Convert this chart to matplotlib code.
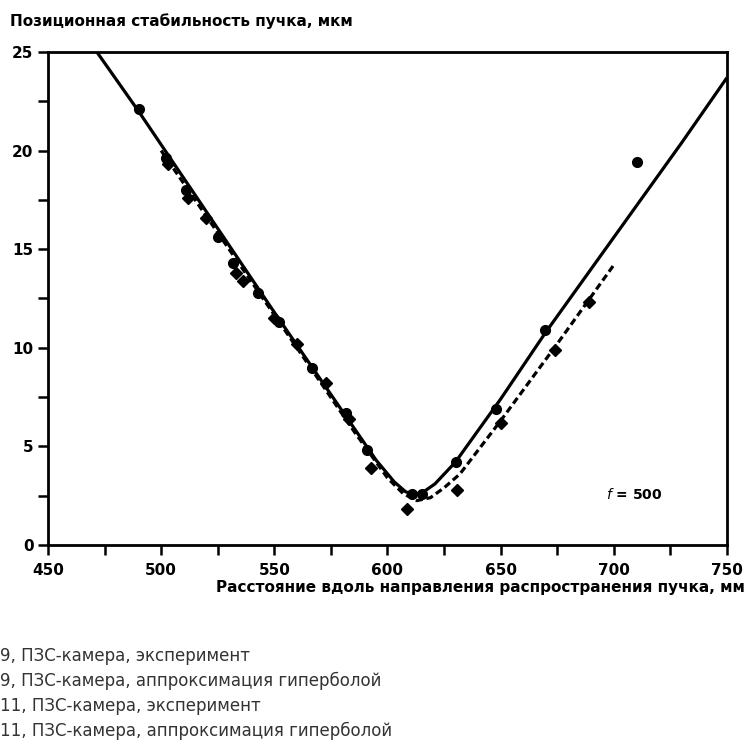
import numpy as np
import matplotlib.pyplot as plt
from matplotlib.ticker import MultipleLocator

# fitted curves
fit9_x = [471.6, 490, 520, 550, 580, 595, 603, 608, 612, 616, 621, 630, 650, 670, 700, 730, 750]
fit9_y = [25.0, 22.0, 16.9, 11.8, 6.8, 4.3, 3.2, 2.7, 2.55, 2.7, 3.1, 4.2, 7.4, 10.8, 15.6, 20.4, 23.7]

fit11_x = [500, 530, 560, 585, 600, 607, 613, 619, 625, 632, 650, 675, 700]
fit11_y = [20.0, 15.0, 10.0, 5.8, 3.4, 2.6, 2.25, 2.4, 2.9, 3.6, 6.3, 10.2, 14.2]

# measured points
exp9_x = [490, 502, 511, 525, 531.7, 543, 552, 566.7, 581.7, 591, 610.8, 615.3, 630.3, 648, 669.6, 710.3]
exp9_y = [22.1, 19.6, 18.0, 15.6, 14.3, 12.8, 11.3, 9.0, 6.7, 4.8, 2.6, 2.6, 4.2, 6.9, 10.9, 19.4]

exp11_x = [503, 512, 520, 533, 536, 550, 560, 573, 583, 592.7, 608.6, 630.7, 650, 674, 689]
exp11_y = [19.3, 17.6, 16.6, 13.8, 13.4, 11.5, 10.2, 8.2, 6.4, 3.9, 1.85, 2.8, 6.2, 9.9, 12.3]

legend_lines = [
    "9, ПЗС-камера, эксперимент",
    "9, ПЗС-камера, аппроксимация гиперболой",
    "11, ПЗС-камера, эксперимент",
    "11, ПЗС-камера, аппроксимация гиперболой",
]

fig = plt.figure(figsize=(7.46, 7.48), dpi=100)
ax = fig.add_axes([0.0643, 0.2714, 0.9102, 0.6591])

ax.plot(fit9_x, fit9_y, color='black', lw=2.3, solid_capstyle='butt')
ax.plot(fit11_x, fit11_y, color='black', lw=2.3, ls=(0, (2.2, 1.2)))
ax.plot(exp9_x, exp9_y, 'o', color='black', ms=7)
ax.plot(exp11_x, exp11_y, 'D', color='black', ms=6.5)

ax.set_xlim(450, 750)
ax.set_ylim(0, 25)
ax.xaxis.set_major_locator(MultipleLocator(50))
ax.xaxis.set_minor_locator(MultipleLocator(25))
ax.yaxis.set_major_locator(MultipleLocator(5))
ax.yaxis.set_minor_locator(MultipleLocator(2.5))
ax.tick_params(which='both', direction='out', length=7, width=1.8, labelsize=11)
ax.tick_params(axis='x', pad=6)
for lab in ax.get_xticklabels() + ax.get_yticklabels():
    lab.set_fontweight('bold')
for s in ax.spines.values():
    s.set_linewidth(2.0)

ax.text(0.864, 0.102, "$f$ = 500", transform=ax.transAxes, fontsize=10,
        fontweight='bold', ha='center', va='center')

fig.text(0.013, 0.972, "Позиционная стабильность пучка, мкм", fontsize=11,
         fontweight='bold', ha='left', va='center')
fig.text(0.998, 0.214, "Расстояние вдоль направления распространения пучка, мм",
         fontsize=11, fontweight='bold', ha='right', va='center')

for i, t in enumerate(legend_lines):
    fig.text(0.0, 0.123 - i * 0.0335, t, fontsize=12, color='#333333',
             ha='left', va='center')

fig.savefig("out.png", dpi=100)
